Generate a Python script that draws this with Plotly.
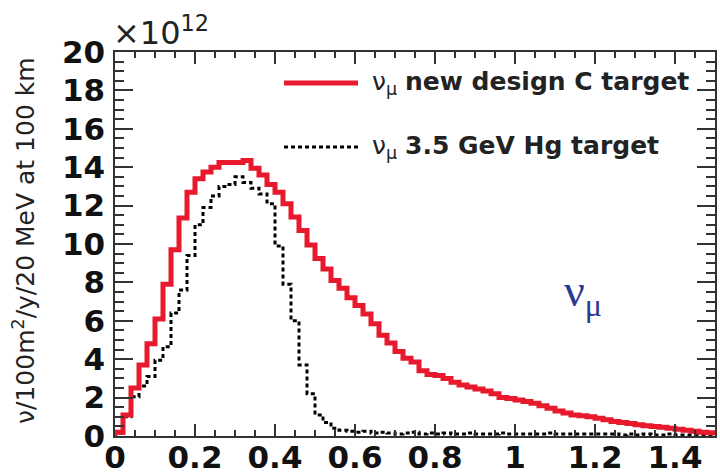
import numpy as np
import plotly.graph_objects as go

# ---- data (flux in units of 1e12 nu / 100 m^2 / y / 20 MeV at 100 km) ----
bin_width = 0.02  # GeV (20 MeV bins)
n_bins = 75
energy_lo = np.round(np.arange(n_bins) * bin_width, 4)  # left bin edges, GeV

flux_c_target = [
    0.2, 1.1, 2.5, 3.7, 4.8, 6.1, 7.9, 9.7, 11.35, 12.7,
    13.4, 13.75, 14.0, 14.25, 14.25, 14.25, 14.35, 13.95, 13.6, 13.1,
    12.7, 12.1, 11.4, 10.7, 9.95, 9.25, 8.7, 8.1, 7.7, 7.2,
    6.8, 6.35, 5.85, 5.25, 4.85, 4.4, 4.05, 3.85, 3.4, 3.2,
    3.15, 3.0, 2.8, 2.65, 2.55, 2.45, 2.35, 2.2, 2.0, 1.95,
    1.88, 1.8, 1.7, 1.58, 1.45, 1.3, 1.2, 1.1, 1.05, 1.0,
    0.92, 0.85, 0.76, 0.7, 0.65, 0.58, 0.53, 0.49, 0.45, 0.4,
    0.35, 0.3, 0.25, 0.2, 0.17,
]

flux_hg_target = [
    0.15, 1.0, 2.05, 2.6, 3.1, 3.95, 4.65, 6.4, 7.6, 9.4,
    11.0, 11.9, 12.5, 13.0, 13.1, 13.5, 13.2, 12.9, 12.6, 12.1,
    9.9, 7.9, 6.0, 3.7, 2.2, 1.1, 0.7, 0.4, 0.3, 0.25,
    0.2, 0.25, 0.15, 0.2, 0.15, 0.1, 0.15, 0.2, 0.1, 0.15,
    0.1, 0.15, 0.1, 0.1, 0.15, 0.1, 0.1, 0.1, 0.15, 0.1,
    0.1, 0.1, 0.1, 0.1, 0.15, 0.1, 0.1, 0.1, 0.1, 0.1,
    0.1, 0.1, 0.1, 0.05, 0.1, 0.05, 0.1, 0.05, 0.05, 0.1,
    0.05, 0.05, 0.05, 0.05, 0.05,
]

x_ticks = [0, 0.2, 0.4, 0.6, 0.8, 1.0, 1.2, 1.4]
x_tick_labels = ["0", "0.2", "0.4", "0.6", "0.8", "1", "1.2", "1.4"]
y_ticks = [0, 2, 4, 6, 8, 10, 12, 14, 16, 18, 20]
y_tick_labels = [str(v) for v in y_ticks]

legend_c = "ν<sub>μ</sub> <b>new design C target</b>"
legend_hg = "ν<sub>μ</sub> <b>3.5 GeV Hg target</b>"
y_title = "ν/100m<sup>2</sup>/y/20 MeV at 100 km"

RED = "#e8192c"
BLUE = "#2b3a8f"


def step_xy(lo, vals, width):
    xs = [float(lo[0])] + [float(v) for v in lo] + [float(lo[-1]) + width]
    ys = [0.0] + list(vals) + [vals[-1]]
    return xs, ys


fig = go.Figure()

xs, ys = step_xy(energy_lo, flux_hg_target, bin_width)
fig.add_trace(go.Scatter(x=xs, y=ys, mode="lines", line_shape="hv",
                         line=dict(color="black", width=3, dash="4px,3px"),
                         name="Hg", showlegend=False, hoverinfo="skip"))

xs, ys = step_xy(energy_lo, flux_c_target, bin_width)
fig.add_trace(go.Scatter(x=xs, y=ys, mode="lines", line_shape="hv",
                         line=dict(color=RED, width=5),
                         name="C", showlegend=False, hoverinfo="skip"))

tickfont = dict(family="DejaVu Sans", size=31, color="#111111", weight="bold")

fig.update_layout(
    width=720, height=473,
    margin=dict(l=115, r=5, t=52, b=37),
    paper_bgcolor="white", plot_bgcolor="white",
    showlegend=False,
    xaxis=dict(
        range=[0, 1.5], tickmode="array", tickvals=x_ticks, ticktext=x_tick_labels,
        ticks="inside", ticklen=12, tickwidth=1.5, tickcolor="#333333",
        minor=dict(dtick=0.05, tick0=0, ticks="inside", ticklen=6, tickwidth=1.5, tickcolor="#333333"),
        showline=True, linewidth=1.5, linecolor="#333333", mirror="ticks",
        showgrid=False, zeroline=False, tickfont=tickfont, ticklabelstandoff=-7,
        automargin=False,
    ),
    yaxis=dict(
        range=[0, 20], tickmode="array", tickvals=y_ticks, ticktext=y_tick_labels,
        ticks="inside", ticklen=18, tickwidth=1.5, tickcolor="#333333",
        minor=dict(dtick=0.5, tick0=0, ticks="inside", ticklen=9, tickwidth=1.5, tickcolor="#333333"),
        showline=True, linewidth=1.5, linecolor="#333333", mirror="ticks",
        showgrid=False, zeroline=False, tickfont=tickfont, ticklabelstandoff=2,
        automargin=False,
    ),
)

# legend (drawn manually to mimic ROOT TLegend)
fig.add_shape(type="line", xref="paper", yref="paper", x0=0.2817, x1=0.405, y0=0.919, y1=0.919,
              line=dict(color=RED, width=5))
fig.add_shape(type="line", xref="paper", yref="paper", x0=0.2817, x1=0.405, y0=0.7526, y1=0.7526,
              line=dict(color="black", width=3, dash="4px,3px"))
legfont = dict(family="DejaVu Sans", size=25, color="#222222")
fig.add_annotation(text=legend_c, xref="paper", yref="paper", x=0.425, y=0.918,
                   xanchor="left", yanchor="middle", showarrow=False, font=legfont)
fig.add_annotation(text=legend_hg, xref="paper", yref="paper", x=0.425, y=0.752,
                   xanchor="left", yanchor="middle", showarrow=False, font=legfont)

# nu_mu label
fig.add_annotation(text="ν<sub>μ</sub>", xref="paper", yref="paper", x=0.78, y=0.37,
                   xanchor="center", yanchor="middle", showarrow=False,
                   font=dict(family="Liberation Serif", size=46, color=BLUE))

# exponent label
fig.add_annotation(text="×10<sup>12</sup>", xref="paper", yref="paper", x=-0.006, y=0.995,
                   xanchor="left", yanchor="bottom", showarrow=False,
                   font=dict(family="DejaVu Sans", size=32, color="#222222"))

# y-axis title
fig.add_annotation(text=y_title, xref="paper", yref="paper", x=-0.152, y=0.51,
                   xanchor="center", yanchor="middle", textangle=-90, showarrow=False,
                   font=dict(family="DejaVu Sans", size=25, color="#222222"))

fig.write_html("out.html", config={"displayModeBar": False},
               post_script="document.body.style.margin='0';document.body.style.overflow='hidden';")
